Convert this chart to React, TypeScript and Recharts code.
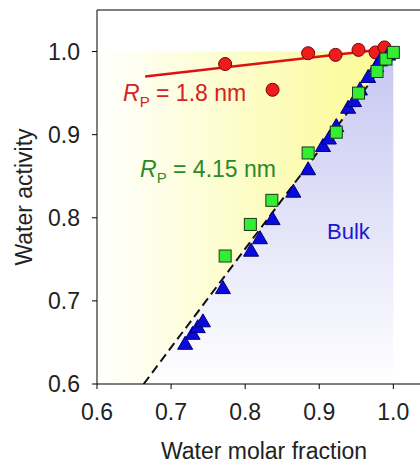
import React from 'react';
import { ComposedChart, XAxis, YAxis, Scatter, Line, Area, ReferenceLine } from 'recharts';

// Rp = 1.8 nm (red circles)
const redX = [0.773, 0.837, 0.885, 0.922, 0.953, 0.976, 0.988];
const redY = [0.985, 0.954, 0.998, 0.996, 1.002, 0.999, 1.005];

// Rp = 4.15 nm (green squares)
const greenX = [0.773, 0.807, 0.836, 0.885, 0.923, 0.953, 0.978, 0.99, 1.0];
const greenY = [0.754, 0.792, 0.821, 0.878, 0.903, 0.95, 0.976, 0.991, 0.999];

// Bulk (blue triangles)
const blueX = [0.719, 0.729, 0.736, 0.743, 0.77, 0.808, 0.82, 0.837, 0.865, 0.885, 0.905, 0.913, 0.923, 0.939, 0.947, 0.955, 0.966, 0.977, 0.982, 0.993];
const blueY = [0.649, 0.661, 0.669, 0.676, 0.716, 0.761, 0.776, 0.799, 0.832, 0.859, 0.887, 0.896, 0.911, 0.933, 0.941, 0.955, 0.97, 0.983, 0.99, 0.997];

// fitted lines
const bulkLineX = [0.663, 1.0];
const bulkLineY = [0.6, 1.0];
const redLineX = [0.665, 0.99];
const redLineY = [0.97, 1.003];

// shaded regions [low, high]
const yellowX = [0.6, 0.663, 1.0];
const yellowLo = [0.6, 0.6, 1.0];
const yellowHi = [1.0, 1.0, 1.0];
const blueAreaX = [0.663, 1.0];
const blueAreaLo = [0.6, 0.6];
const blueAreaHi = [0.6, 1.0];

const xTicks = [0.6, 0.7, 0.8, 0.9, 1.0];
const yTicks = [0.6, 0.7, 0.8, 0.9, 1.0];

const zip = (xs: number[], ys: number[]) => xs.map((x, i) => ({ x, y: ys[i] }));
const zipRange = (xs: number[], lo: number[], hi: number[]) => xs.map((x, i) => ({ x, r: [lo[i], hi[i]] }));

const Circle = (p: any) => (
  <circle cx={p.cx} cy={p.cy} r={6.5} fill="#ee1c1c" stroke="#7a0000" strokeWidth={1} />
);
const Square = (p: any) => (
  <rect x={p.cx - 6} y={p.cy - 6} width={12} height={12} fill="#33ee33" stroke="#1a3a1a" strokeWidth={1} />
);
const Triangle = (p: any) => (
  <polygon
    points={`${p.cx},${p.cy - 7} ${p.cx - 7.5},${p.cy + 6} ${p.cx + 7.5},${p.cy + 6}`}
    fill="#0a0ae0"
    stroke="#000070"
    strokeWidth={1}
  />
);

const font = '"Liberation Sans", Arial, sans-serif';
const tickStyle = { fill: '#222', fontSize: 23, fontFamily: font };

export default function App() {
  return (
    <div style={{ position: 'relative', width: 420, height: 464, background: '#fff', fontFamily: font }}>
      <style>{`body{margin:0}`}</style>
      <ComposedChart width={420} height={464} margin={{ top: 10, right: 0, bottom: 0, left: 0 }}>
        <defs>
          <linearGradient id="yel" x1="0" y1="0" x2="1" y2="0">
            <stop offset="0%" stopColor="#ffffff" />
            <stop offset="100%" stopColor="#fafa90" />
          </linearGradient>
          <linearGradient id="blu" x1="0" y1="0" x2="0" y2="1">
            <stop offset="0%" stopColor="#c6c6f2" />
            <stop offset="100%" stopColor="#ffffff" />
          </linearGradient>
        </defs>
        <XAxis
          type="number"
          dataKey="x"
          domain={[0.6, 1.036]}
          ticks={xTicks}
          tickFormatter={(v: number) => v.toFixed(1)}
          allowDataOverflow
          height={80}
          stroke="#000"
          tickSize={5}
          tickMargin={15}
          tick={tickStyle}
        />
        <YAxis
          type="number"
          dataKey="y"
          domain={[0.6, 1.05]}
          ticks={yTicks}
          tickFormatter={(v: number) => v.toFixed(1)}
          allowDataOverflow
          width={97}
          stroke="#000"
          tickSize={5}
          tickMargin={12}
          tick={tickStyle}
        />
        <Area
          data={zipRange(yellowX, yellowLo, yellowHi)}
          dataKey="r"
          type="linear"
          stroke="none"
          fill="url(#yel)"
          fillOpacity={1}
          isAnimationActive={false}
        />
        <Area
          data={zipRange(blueAreaX, blueAreaLo, blueAreaHi)}
          dataKey="r"
          type="linear"
          stroke="none"
          fill="url(#blu)"
          fillOpacity={1}
          isAnimationActive={false}
        />
        <ReferenceLine y={1.05} stroke="#000" strokeWidth={1} ifOverflow="visible" />
        <Line
          data={zip(bulkLineX, bulkLineY)}
          dataKey="y"
          type="linear"
          stroke="#111"
          strokeWidth={2}
          strokeDasharray="9 5"
          dot={false}
          isAnimationActive={false}
        />
        <Line
          data={zip(redLineX, redLineY)}
          dataKey="y"
          type="linear"
          stroke="#dd1111"
          strokeWidth={2.5}
          dot={false}
          isAnimationActive={false}
        />
        <Scatter data={zip(redX, redY)} shape={Circle} isAnimationActive={false} />
        <Scatter data={zip(blueX, blueY)} shape={Triangle} isAnimationActive={false} />
        <Scatter data={zip(greenX, greenY)} shape={Square} isAnimationActive={false} />
      </ComposedChart>

      <div style={{ position: 'absolute', left: 123, top: 79, fontSize: 23, color: '#d42222', whiteSpace: 'nowrap', lineHeight: '28px' }}>
        <i>R</i><sub style={{ fontSize: 15 }}>P</sub> = 1.8 nm
      </div>
      <div style={{ position: 'absolute', left: 140, top: 155, fontSize: 23, color: '#2a8a2a', whiteSpace: 'nowrap', lineHeight: '28px' }}>
        <i>R</i><sub style={{ fontSize: 15 }}>P</sub> = 4.15 nm
      </div>
      <div style={{ position: 'absolute', left: 327, top: 218, fontSize: 22, color: '#1a1acc', whiteSpace: 'nowrap', lineHeight: '28px' }}>
        Bulk
      </div>
      <div style={{ position: 'absolute', left: 114, top: 437, width: 300, textAlign: 'center', fontSize: 23, color: '#222', whiteSpace: 'nowrap', lineHeight: '28px' }}>
        Water molar fraction
      </div>
      <div
        style={{
          position: 'absolute',
          left: 24,
          top: 197,
          transform: 'translate(-50%, -50%) rotate(-90deg)',
          fontSize: 23,
          color: '#222',
          whiteSpace: 'nowrap',
          lineHeight: '28px',
        }}
      >
        Water activity
      </div>
    </div>
  );
}
